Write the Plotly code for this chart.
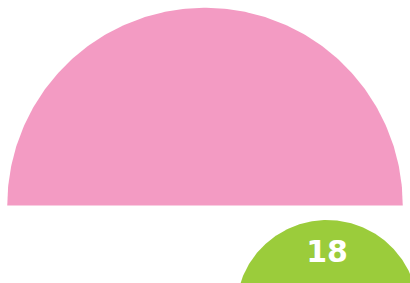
import numpy as np
import plotly.graph_objects as go

# Data
categories = ["A", "B"]
values = [85, 18]
colors = ["#F39BC3", "#9BCC3B"]
show_label = [False, True]

# Layout (pixel-like canvas coordinates, y up)
W, H = 410, 283
centers_x = [205, 327]
centers_y = [H - 205.5, H - 311]
scale = 91.0 / np.sqrt(18)  # radius per sqrt(value) (area-proportional)

fig = go.Figure()
theta = np.linspace(0, np.pi, 240)
for cat, v, col, cx, cy, lab in zip(categories, values, colors, centers_x, centers_y, show_label):
    r = scale * np.sqrt(v)
    xs = np.concatenate([cx + r * np.cos(theta), [cx + r]])
    ys = np.concatenate([cy + r * np.sin(theta), [cy]])
    fig.add_trace(go.Scatter(x=xs, y=ys, mode="lines", fill="toself",
                             fillcolor=col, line=dict(width=0, color=col),
                             hoverinfo="skip", showlegend=False, name=cat))
    if lab:
        fig.add_trace(go.Scatter(x=[cx], y=[H - 254.5], mode="text", text=[str(v)],
                                 textfont=dict(family="DejaVu Sans", size=30, color="white", weight="bold"),
                                 showlegend=False, hoverinfo="skip"))

fig.update_layout(
    width=W, height=H,
    margin=dict(l=0, r=0, t=0, b=0),
    paper_bgcolor="white", plot_bgcolor="white",
    xaxis=dict(range=[0, W], visible=False, fixedrange=True),
    yaxis=dict(range=[0, H], visible=False, fixedrange=True),
)
fig.write_html("out.html", config={"displayModeBar": False},
               post_script="document.body.style.margin='0';document.body.style.overflow='hidden';")
